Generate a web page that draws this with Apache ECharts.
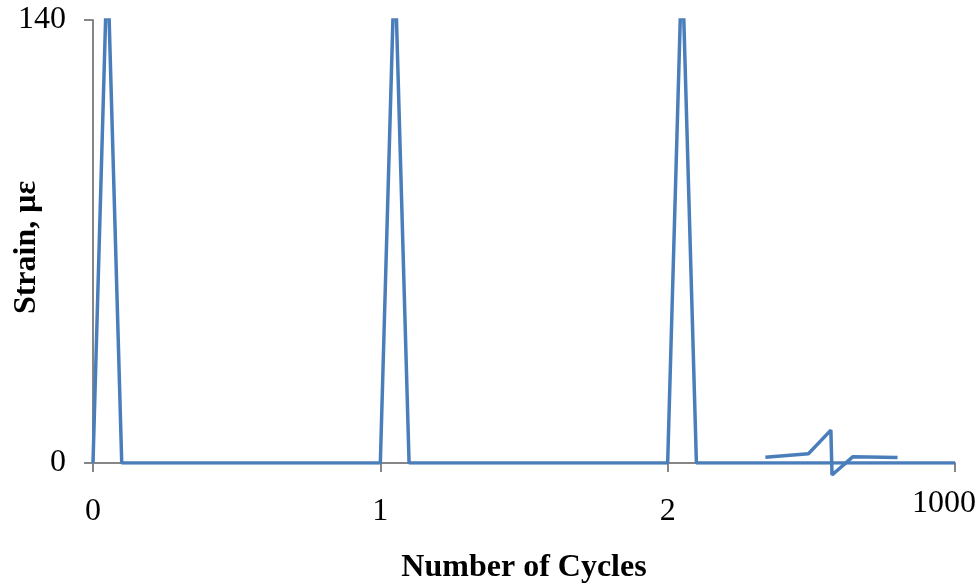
<!DOCTYPE html>
<html lang="en" style="height: 100%">

<head>
  <meta charset="utf-8">
</head>

<body style="height: 100%; margin: 0; background: #fff">
  <div id="container" style="width: 980px; height: 586px"></div>

  <script type="text/javascript" src="https://cdn.jsdelivr.net/npm/echarts@6/dist/echarts.min.js"></script>

  <script type="text/javascript">
    // x positions are in axis units: 0,1,2 then the last tick is labelled 1000
    var tickLabels = ['0', '1', '2', '1000'];
    var cycleX = [0, 0.05, 0.1, 1, 1.05, 1.1, 2, 2.05, 2.1, 3];
    var strain = [0, 160, 0, 0, 160, 0, 0, 160, 0, 0];
    var tailX = [2.34, 2.49, 2.568, 2.572, 2.645, 2.80];
    var tailStrain = [1.8, 2.9, 10.4, -3.8, 2.0, 1.7];

    var dom = document.getElementById('container');
    var myChart = echarts.init(dom, null, { renderer: 'canvas' });

    function pairs(xs, ys) {
      return xs.map(function (x, i) { return [x, ys[i]]; });
    }

    var font = 'Liberation Serif';
    var axisGray = '#868686';
    var blue = '#4a7ebb';

    var option = {
      animation: false,
      backgroundColor: '#fff',
      grid: { left: 93, right: 25, top: 20, bottom: 123, containLabel: false, outerBoundsMode: 'none' },
      xAxis: {
        type: 'value',
        min: 0,
        max: 3,
        interval: 1,
        name: 'Number of Cycles',
        nameLocation: 'middle',
        nameGap: 89,
        nameMoveOverlap: false,
        nameTextStyle: { fontFamily: font, fontSize: 32, fontWeight: 'bold', color: '#000' },
        axisLine: { show: true, lineStyle: { color: axisGray, width: 2 } },
        axisTick: { show: true, length: 9, lineStyle: { color: axisGray, width: 2 } },
        splitLine: { show: false },
        axisLabel: {
          margin: 25,
          fontFamily: font,
          fontSize: 32,
          color: '#000',
          formatter: function (v) {
            var i = Math.round(v);
            return i === 3 ? '{l|' + tickLabels[i] + '}' : '{n|' + tickLabels[i] + '}';
          },
          rich: {
            n: { fontFamily: font, fontSize: 32, color: '#000', padding: [8, 0, 0, 0] },
            l: { fontFamily: font, fontSize: 32, color: '#000', padding: [0, 22, 0, 0] }
          }
        }
      },
      yAxis: {
        type: 'value',
        min: 0,
        max: 140,
        interval: 140,
        name: 'Strain, με',
        nameLocation: 'middle',
        nameGap: 50,
        nameMoveOverlap: false,
        nameTextStyle: {
          fontFamily: font, fontSize: 32, fontWeight: 'bold', color: '#000',
          padding: [0, 12, 0, 0]
        },
        axisLine: { show: true, lineStyle: { color: axisGray, width: 2 } },
        axisTick: { show: true, length: 9, lineStyle: { color: axisGray, width: 2 } },
        splitLine: { show: false },
        axisLabel: { margin: 27, fontFamily: font, fontSize: 32, color: '#000', padding: [6, 0, 0, 0] }
      },
      series: [
        {
          type: 'line',
          data: pairs(cycleX, strain),
          showSymbol: false,
          clip: true,
          lineStyle: { color: blue, width: 3.5 }
        },
        {
          type: 'line',
          data: pairs(tailX, tailStrain),
          showSymbol: false,
          clip: false,
          lineStyle: { color: blue, width: 3.5 }
        }
      ]
    };

    myChart.setOption(option);
  </script>
</body>

</html>
